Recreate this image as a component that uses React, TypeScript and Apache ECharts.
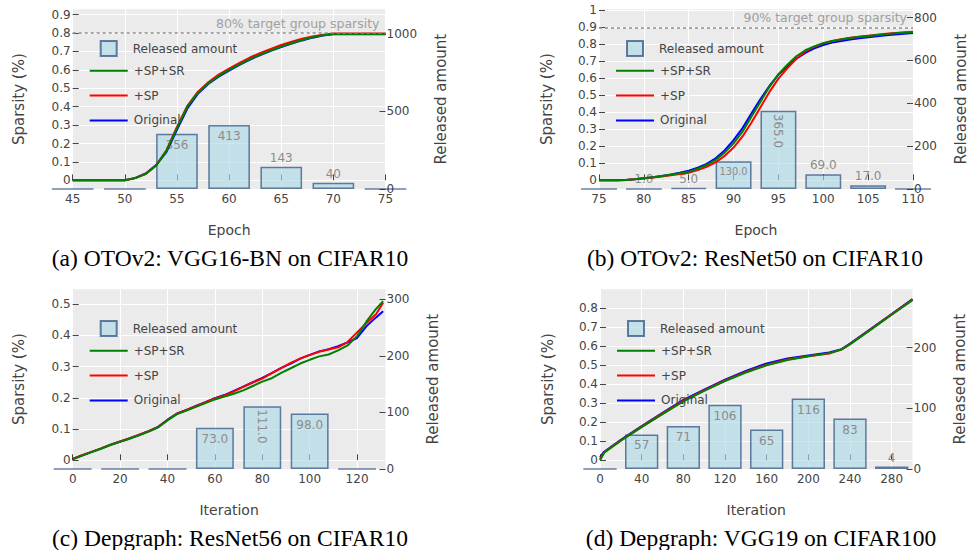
import React, { useEffect, useRef } from 'react';
import * as echarts from 'echarts';

// ---------------- (a) OTOv2: VGG16-BN on CIFAR10 ----------------
const aEpochs = [45, 46, 47, 48, 49, 50, 51, 52, 53, 54, 55, 56, 57, 58, 59, 60, 61, 62, 63, 64, 65, 66, 67, 68, 69, 70, 71, 72, 73, 74, 75];
const aSPSR = [0, 0, 0, 0, 0, 0, 0.012, 0.034, 0.08, 0.16, 0.285, 0.4, 0.475, 0.527, 0.567, 0.6, 0.63, 0.658, 0.683, 0.705, 0.726, 0.745, 0.762, 0.777, 0.788, 0.795, 0.795, 0.795, 0.795, 0.795, 0.795];
const aSP = [0, 0, 0, 0, 0, 0, 0.012, 0.035, 0.082, 0.165, 0.29, 0.405, 0.48, 0.533, 0.574, 0.607, 0.638, 0.667, 0.692, 0.714, 0.735, 0.753, 0.769, 0.782, 0.791, 0.797, 0.797, 0.797, 0.797, 0.797, 0.797];
const aOriginal = [0, 0, 0, 0, 0, 0, 0.013, 0.037, 0.083, 0.155, 0.275, 0.39, 0.47, 0.523, 0.563, 0.596, 0.627, 0.656, 0.681, 0.703, 0.724, 0.743, 0.76, 0.775, 0.787, 0.794, 0.794, 0.794, 0.794, 0.794, 0.794];
const aBarEpochs = [45, 50, 55, 60, 65, 70, 75];
const aReleased = [0, 0, 356, 413, 143, 40, 0];
const aXTicks = [45, 50, 55, 60, 65, 70, 75];
const aYTicks = [0, 0.1, 0.2, 0.3, 0.4, 0.5, 0.6, 0.7, 0.8, 0.9];
const aRTicks = [0, 500, 1000];
const aTarget = 0.8;

// ---------------- (b) OTOv2: ResNet50 on CIFAR10 ----------------
const bEpochs = [75, 76, 77, 78, 79, 80, 81, 82, 83, 84, 85, 86, 87, 88, 89, 90, 91, 92, 93, 94, 95, 96, 97, 98, 99, 100, 101, 102, 103, 104, 105, 106, 107, 108, 109, 110];
const bSPSR = [0, 0, 0, 0.002, 0.006, 0.012, 0.018, 0.025, 0.033, 0.041, 0.05, 0.068, 0.09, 0.12, 0.163, 0.218, 0.286, 0.375, 0.463, 0.55, 0.625, 0.68, 0.73, 0.765, 0.788, 0.806, 0.819, 0.829, 0.837, 0.844, 0.849, 0.855, 0.86, 0.865, 0.869, 0.873];
const bSP = [0, 0, 0, 0.002, 0.006, 0.012, 0.017, 0.023, 0.03, 0.037, 0.045, 0.06, 0.08, 0.106, 0.143, 0.193, 0.258, 0.34, 0.43, 0.52, 0.598, 0.66, 0.715, 0.758, 0.786, 0.806, 0.82, 0.83, 0.838, 0.845, 0.851, 0.857, 0.862, 0.866, 0.87, 0.874];
const bOriginal = [0, 0, 0, 0.002, 0.006, 0.012, 0.018, 0.026, 0.035, 0.045, 0.056, 0.074, 0.097, 0.13, 0.176, 0.236, 0.307, 0.395, 0.478, 0.555, 0.622, 0.67, 0.715, 0.75, 0.776, 0.796, 0.81, 0.82, 0.829, 0.836, 0.842, 0.848, 0.853, 0.858, 0.862, 0.866];
const bBarEpochs = [75, 80, 85, 90, 95, 100, 105, 110];
const bReleased = [0, 1, 5, 130, 365, 69, 17, 0];
const bXTicks = [75, 80, 85, 90, 95, 100, 105, 110];
const bYTicks = [0, 0.1, 0.2, 0.3, 0.4, 0.5, 0.6, 0.7, 0.8, 0.9, 1];
const bRTicks = [0, 200, 400, 600, 800];
const bTarget = 0.9;

// ---------------- (c) Depgraph: ResNet56 on CIFAR10 ----------------
const cIters = [0, 4, 8, 12, 16, 20, 24, 28, 32, 36, 40, 44, 48, 52, 56, 60, 64, 68, 72, 76, 80, 84, 88, 92, 96, 100, 104, 108, 112, 116, 120, 124, 128, 131];
const cSPSR = [0.003, 0.015, 0.026, 0.037, 0.049, 0.059, 0.069, 0.08, 0.092, 0.105, 0.128, 0.148, 0.159, 0.171, 0.183, 0.195, 0.204, 0.213, 0.224, 0.238, 0.252, 0.263, 0.28, 0.295, 0.31, 0.322, 0.333, 0.339, 0.352, 0.368, 0.398, 0.445, 0.485, 0.51];
const cSP = [0.004, 0.016, 0.027, 0.038, 0.05, 0.06, 0.071, 0.082, 0.093, 0.106, 0.129, 0.149, 0.161, 0.173, 0.186, 0.198, 0.208, 0.221, 0.235, 0.249, 0.262, 0.279, 0.295, 0.312, 0.326, 0.337, 0.348, 0.355, 0.362, 0.379, 0.41, 0.44, 0.468, 0.505];
const cOriginal = [0.004, 0.016, 0.027, 0.038, 0.05, 0.06, 0.07, 0.081, 0.093, 0.107, 0.13, 0.15, 0.161, 0.174, 0.186, 0.199, 0.209, 0.222, 0.236, 0.25, 0.264, 0.279, 0.296, 0.31, 0.326, 0.338, 0.349, 0.356, 0.366, 0.378, 0.392, 0.43, 0.458, 0.478];
const cBarIters = [0, 20, 40, 60, 80, 100, 120];
const cReleased = [0, 0, 0, 73, 111, 98, 0];
const cXTicks = [0, 20, 40, 60, 80, 100, 120];
const cYTicks = [0, 0.1, 0.2, 0.3, 0.4, 0.5];
const cRTicks = [0, 100, 200, 300];

// ---------------- (d) Depgraph: VGG19 on CIFAR100 ----------------
const dIters = [0, 4, 20, 40, 60, 80, 100, 120, 140, 160, 180, 200, 220, 232, 240, 260, 280, 300];
const dSPSR = [0.0, 0.04, 0.103, 0.174, 0.243, 0.31, 0.365, 0.417, 0.462, 0.5, 0.528, 0.548, 0.564, 0.583, 0.61, 0.688, 0.766, 0.843];
const dSP = [0.005, 0.042, 0.105, 0.177, 0.247, 0.313, 0.368, 0.42, 0.465, 0.503, 0.53, 0.547, 0.562, 0.584, 0.612, 0.69, 0.768, 0.846];
const dOriginal = [0.015, 0.045, 0.108, 0.18, 0.25, 0.318, 0.372, 0.424, 0.47, 0.51, 0.536, 0.552, 0.567, 0.585, 0.614, 0.692, 0.77, 0.848];
const dBarIters = [0, 40, 80, 120, 160, 200, 240, 280];
const dReleased = [0, 57, 71, 106, 65, 116, 83, 4];
const dXTicks = [0, 40, 80, 120, 160, 200, 240, 280];
const dYTicks = [0, 0.1, 0.2, 0.3, 0.4, 0.5, 0.6, 0.7, 0.8];
const dRTicks = [0, 100, 200];

const FONT = 'DejaVu Sans';
const AXIS_COLOR = '#444';

type Layout = {
  left: number; top: number; width: number; height: number;
  xMin: number; xMax: number; yMin: number; yMax: number; rMax: number;
  barUnits: number; leftGap: number; rightGap: number;
  capX: number; capY: number;
};

type Panel = {
  caption: string; xName: string; decimals: number;
  x: number[]; spsr: number[]; sp: number[]; orig: number[];
  barX: number[]; barV: number[];
  xTicks: number[]; yTicks: number[]; rTicks: number[];
  target: number | null;
  layout: Layout;
};

const panels: Panel[] = [
  {
    caption: '(a) OTOv2: VGG16-BN on CIFAR10', xName: 'Epoch', decimals: 0,
    x: aEpochs, spsr: aSPSR, sp: aSP, orig: aOriginal, barX: aBarEpochs, barV: aReleased,
    xTicks: aXTicks, yTicks: aYTicks, rTicks: aRTicks, target: aTarget,
    layout: { left: 72.7, top: 9.3, width: 312.8, height: 179.7, xMin: 45, xMax: 75, yMin: -0.047, yMax: 0.929, rMax: 1159, barUnits: 4, leftGap: 46, rightGap: 48, capX: 230, capY: 258 },
  },
  {
    caption: '(b) OTOv2: ResNet50 on CIFAR10', xName: 'Epoch', decimals: 1,
    x: bEpochs, spsr: bSPSR, sp: bSP, orig: bOriginal, barX: bBarEpochs, barV: bReleased,
    xTicks: bXTicks, yTicks: bYTicks, rTicks: bRTicks, target: bTarget,
    layout: { left: 599, top: 9.3, width: 314.5, height: 179.7, xMin: 75, xMax: 110, yMin: -0.051, yMax: 1.006, rMax: 839, barUnits: 4, leftGap: 45, rightGap: 40, capX: 755, capY: 258 },
  },
  {
    caption: '(c) Depgraph: ResNet56 on CIFAR10', xName: 'Iteration', decimals: 1,
    x: cIters, spsr: cSPSR, sp: cSP, orig: cOriginal, barX: cBarIters, barV: cReleased,
    xTicks: cXTicks, yTicks: cYTicks, rTicks: cRTicks, target: null,
    layout: { left: 72.7, top: 289.3, width: 312.8, height: 179.7, xMin: 0, xMax: 132, yMin: -0.028, yMax: 0.548, rMax: 317.5, barUnits: 16, leftGap: 46, rightGap: 40, capX: 230, capY: 538 },
  },
  {
    caption: '(d) Depgraph: VGG19 on CIFAR100', xName: 'Iteration', decimals: 0,
    x: dIters, spsr: dSPSR, sp: dSP, orig: dOriginal, barX: dBarIters, barV: dReleased,
    xTicks: dXTicks, yTicks: dYTicks, rTicks: dRTicks, target: null,
    layout: { left: 600, top: 289.3, width: 312.5, height: 179.7, xMin: 0, xMax: 300, yMin: -0.046, yMax: 0.9, rMax: 296, barUnits: 32, leftGap: 45, rightGap: 40, capX: 761, capY: 538 },
  },
];

function textWidth12(s: string) {
  let w = 0;
  for (const c of s) w += c === '.' ? 3.82 : 7.63;
  return w;
}

function fmt(v: number, decimals: number) {
  return decimals > 0 ? v.toFixed(decimals) : String(v);
}

function barLabel(v: number, text: string, barW: number, barH: number): any {
  if (v === 0) return { show: false };
  const tw = textWidth12(text);
  if (barH < 24) return { show: true, position: 'top', distance: 3 };
  if (tw <= barW - 8) return { show: true, position: 'insideTop', distance: 5 };
  if (barH >= tw + 8) {
    return { show: true, position: 'insideTop', distance: 3, rotate: -90, align: 'left', verticalAlign: 'middle' };
  }
  return { show: true, position: 'insideTop', distance: 5, fontSize: Math.round((120 * (barW - 8)) / tw) / 10 };
}

function zip(xs: number[], ys: number[]) {
  return xs.map((x, k) => [x, ys[k]]);
}

function buildOption() {
  const grid: any[] = [];
  const xAxis: any[] = [];
  const yAxis: any[] = [];
  const series: any[] = [];
  const legend: any[] = [];
  const graphic: any[] = [];

  panels.forEach((p, i) => {
    const L = p.layout;
    grid.push({ left: L.left, top: L.top, width: L.width, height: L.height, show: true, backgroundColor: '#ebebeb', borderWidth: 0, containLabel: false });

    const tickStyle = { show: true, inside: true, length: 6, lineStyle: { color: AXIS_COLOR, width: 1 } };
    xAxis.push({
      type: 'value', gridIndex: i, min: L.xMin, max: L.xMax,
      name: p.xName, nameLocation: 'middle', nameGap: 34,
      nameTextStyle: { fontSize: 14, color: AXIS_COLOR, fontFamily: FONT },
      axisLine: { show: false },
      axisTick: { ...tickStyle, customValues: p.xTicks },
      axisLabel: { customValues: p.xTicks, color: AXIS_COLOR, fontSize: 12, fontFamily: FONT, margin: 4, formatter: (v: number) => String(v) },
      splitLine: { show: true, lineStyle: { color: '#ffffff', width: 1 } },
    });
    yAxis.push({
      type: 'value', gridIndex: i, position: 'left', min: L.yMin, max: L.yMax,
      name: 'Sparsity (%)', nameLocation: 'middle', nameRotate: 90, nameGap: L.leftGap,
      nameTextStyle: { fontSize: 15, color: AXIS_COLOR, fontFamily: FONT },
      axisLine: { show: false },
      axisTick: { ...tickStyle, customValues: p.yTicks },
      axisLabel: { customValues: p.yTicks, color: AXIS_COLOR, fontSize: 12, fontFamily: FONT, margin: 2, formatter: (v: number) => String(v) },
      splitLine: { show: true, lineStyle: { color: '#ffffff', width: 1 } },
    });
    yAxis.push({
      type: 'value', gridIndex: i, position: 'right', min: 0, max: L.rMax,
      name: 'Released amount', nameLocation: 'middle', nameRotate: 90, nameGap: L.rightGap,
      nameTextStyle: { fontSize: 15, color: AXIS_COLOR, fontFamily: FONT },
      axisLine: { show: false },
      axisTick: { ...tickStyle, customValues: p.rTicks },
      axisLabel: { customValues: p.rTicks, color: AXIS_COLOR, fontSize: 12, fontFamily: FONT, margin: 1, formatter: (v: number) => String(v) },
      splitLine: { show: false },
    });

    const lineCommon = { type: 'line', xAxisIndex: i, yAxisIndex: 2 * i, showSymbol: false, symbol: 'none', silent: true };
    series.push({ ...lineCommon, name: 'Original', data: zip(p.x, p.orig), lineStyle: { color: '#0000ff', width: 2 }, itemStyle: { color: '#0000ff' } });
    series.push({ ...lineCommon, name: '+SP', data: zip(p.x, p.sp), lineStyle: { color: '#ff0000', width: 2 }, itemStyle: { color: '#ff0000' } });
    const green: any = { ...lineCommon, name: '+SP+SR', data: zip(p.x, p.spsr), lineStyle: { color: '#008000', width: 2 }, itemStyle: { color: '#008000' } };
    if (p.target != null) {
      green.markLine = {
        silent: true, symbol: ['none', 'none'],
        data: [{ yAxis: p.target }],
        lineStyle: { color: '#8f8f8f', type: [3, 3], width: 1.5 },
        label: {
          show: true, position: 'insideEndTop', distance: [6, 3],
          formatter: `${Math.round(p.target * 100)}% target group sparsity`,
          color: '#a0a0a0', fontSize: 12.5, fontFamily: FONT,
        },
      };
    }
    series.push(green);

    const barW = (p.layout.barUnits * L.width) / (L.xMax - L.xMin);
    const pxPerUnit = L.height / L.rMax;
    series.push({
      type: 'bar', name: 'Released amount', xAxisIndex: i, yAxisIndex: 2 * i + 1,
      barWidth: barW, silent: true, clip: true,
      data: p.barX.map((x, k) => {
        const v = p.barV[k];
        return { value: [x, v], label: barLabel(v, fmt(v, p.decimals), barW, v * pxPerUnit) };
      }),
      itemStyle: { color: 'rgba(173,216,230,0.65)', borderColor: 'rgba(8,48,107,0.6)', borderWidth: 1.5 },
      label: {
        show: true, color: '#8c8c8c', fontSize: 12, fontFamily: FONT,
        formatter: (params: any) => fmt(params.value[1], p.decimals),
      },
    });

    legend.push({
      data: ['Released amount'], left: L.left + 27, top: L.top + 30.7, orient: 'vertical',
      itemWidth: 16, itemHeight: 15, icon: 'rect', selectedMode: false, padding: 0,
      textStyle: { fontSize: 12, color: AXIS_COLOR, fontFamily: FONT, padding: [0, 0, 0, 11] },
    });
    legend.push({
      data: ['+SP+SR', '+SP', 'Original'], left: L.left + 16, top: L.top + 55.5, orient: 'vertical',
      itemWidth: 38, itemHeight: 14, itemGap: 12.8, selectedMode: false, padding: 0,
      itemStyle: { opacity: 0 },
      textStyle: { fontSize: 12, color: AXIS_COLOR, fontFamily: FONT, padding: [0, 0, 0, 1] },
    });

    graphic.push({
      type: 'text', x: L.capX, y: L.capY, silent: true,
      style: { text: p.caption, fill: '#000', fontSize: 23.5, fontFamily: 'Liberation Serif', align: 'center', verticalAlign: 'middle' },
    });
  });

  return {
    animation: false,
    backgroundColor: '#ffffff',
    textStyle: { fontFamily: FONT },
    grid, xAxis, yAxis, series, legend, graphic,
  };
}

export default function App() {
  const ref = useRef<HTMLDivElement>(null);
  useEffect(() => {
    if (!ref.current) return;
    const chart = echarts.init(ref.current, undefined, { renderer: 'svg' });
    chart.setOption(buildOption() as any);
    return () => chart.dispose();
  }, []);
  return <div ref={ref} style={{ position: 'absolute', left: 0, top: 0, width: 969, height: 550 }} />;
}
